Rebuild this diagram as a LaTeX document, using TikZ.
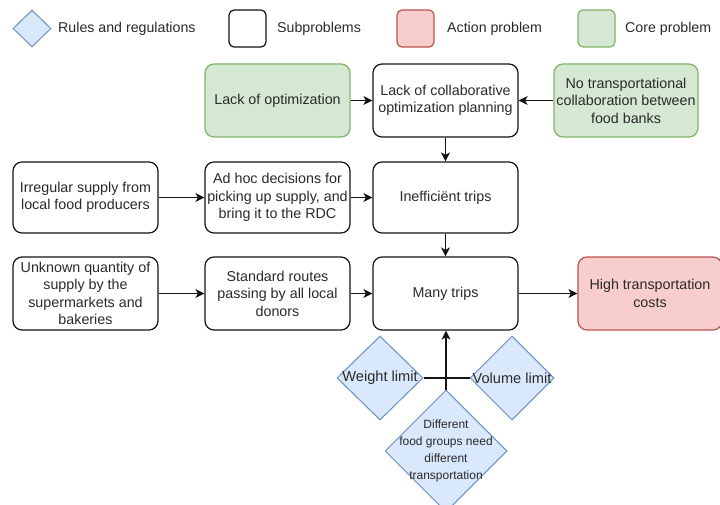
\documentclass[tikz,border=0pt]{standalone}
\usepackage{fontspec}
\setmainfont{Liberation Sans}
\usetikzlibrary{shapes.geometric,arrows.meta}
\definecolor{greenfill}{HTML}{D5E8D4}
\definecolor{greenline}{HTML}{82B366}
\definecolor{redfill}{HTML}{F8CECC}
\definecolor{redline}{HTML}{B85450}
\definecolor{bluefill}{HTML}{DAE8FC}
\definecolor{blueline}{HTML}{6C8EBF}
\definecolor{txt}{HTML}{2A2A2A}
\definecolor{boxline}{HTML}{141414}
\begin{document}
\begin{tikzpicture}[x=1pt,y=-1pt,
  box/.style={draw=boxline, line width=1.2pt, rounded corners=9pt, minimum width=145pt, minimum height=73pt, align=center, font=\fontsize{14.3}{17.5}\selectfont, text=txt, inner sep=0pt},
  corebox/.style={box, draw=greenline, fill=greenfill},
  actbox/.style={box, draw=redline, fill=redfill},
  rule/.style={draw=blueline, fill=bluefill, line width=1pt, shape=diamond, inner sep=0pt},
  ruletext/.style={font=\fontsize{14.6}{17}\selectfont, text=txt, inner sep=0pt, align=center},
  legbox/.style={line width=1.2pt, rounded corners=5pt, minimum width=37pt, minimum height=37pt, inner sep=0pt},
  legtext/.style={font=\fontsize{14.2}{17}\selectfont, text=txt, anchor=west, inner sep=0pt},
  arr/.style={draw=boxline, line width=1.2pt, -{Stealth[length=9pt,width=9pt,inset=2.5pt]}},
  ln/.style={draw=boxline, line width=1.2pt}]
\clip (0,0) rectangle (720,505);
\fill[white] (0,0) rectangle (720,505);

% legend
\node[rule, minimum width=38pt, minimum height=37pt] (legrule) at (32,28.5) {};
\node[legtext] (legruletext) at (58,28.5) {Rules and regulations};
\node[legbox, draw=boxline, fill=white] (legsub) at (247.5,28.5) {};
\node[legtext] (legsubtext) at (277,28.5) {Subproblems};
\node[legbox, draw=redline, fill=redfill] (legact) at (415.5,28.5) {};
\node[legtext] (legacttext) at (447,28.5) {Action problem};
\node[legbox, draw=greenline, fill=greenfill] (legcore) at (596.5,28.5) {};
\node[legtext] (legcoretext) at (625,28.5) {Core problem};

% row 1
\node[corebox] (opt) at (277.5,100.5) {Lack of optimization};
\node[box] (collab) at (445.5,100.5) {Lack of collaborative\\optimization planning};
\node[corebox, minimum width=144pt] (notrans) at (626,100.5) {No transportational\\collaboration between\\food banks};

% row 2
\node[box, minimum height=71pt] (irregular) at (85.5,197.5) {Irregular supply from\\local food producers};
\node[box, minimum height=71pt] (adhoc) at (277.5,197.5) {Ad hoc decisions for\\picking up supply, and\\bring it to the RDC};
\node[box, minimum height=71pt] (ineff) at (445.5,197.5) {Inefficiënt trips};

% row 3
\node[box] (unknown) at (85.5,293.5) {Unknown quantity of\\supply by the\\supermarkets and\\bakeries};
\node[box] (standard) at (277.5,293.5) {Standard routes\\passing by all local\\donors};
\node[box] (many) at (445.5,293.5) {Many trips};
\node[actbox, minimum width=144pt] (high) at (650,293.5) {High transportation\\costs};

% rules
\node[rule, minimum width=86pt, minimum height=84pt] (weight) at (380,378) {};
\node[ruletext] (weighttext) at (380,378) {Weight limit};
\node[rule, minimum width=84pt, minimum height=84pt] (volume) at (512,378) {};
\node[ruletext] (volumetext) at (512,378) {Volume limit};
\node[rule, minimum width=122pt, minimum height=122pt] (diff) at (446,451) {};
\node[ruletext, font=\fontsize{12}{17}\selectfont] (difftext) at (446,451) {Different\\food groups need\\different\\transportation};

% connectors
\draw[arr] (opt) -- (collab);
\draw[arr] (notrans) -- (collab);
\draw[arr] (collab) -- (ineff);
\draw[arr] (irregular) -- (adhoc);
\draw[arr] (adhoc) -- (ineff);
\draw[arr] (ineff) -- (many);
\draw[arr] (unknown) -- (standard);
\draw[arr] (standard) -- (many);
\draw[arr] (many) -- (high);
\coordinate (join) at (diff.north |- weight.east);
\draw[arr] (diff.north) -- (diff.north |- many.south);
\draw[ln] (weight.east) -- (join) -- (volume.west);
\end{tikzpicture}
\end{document}
